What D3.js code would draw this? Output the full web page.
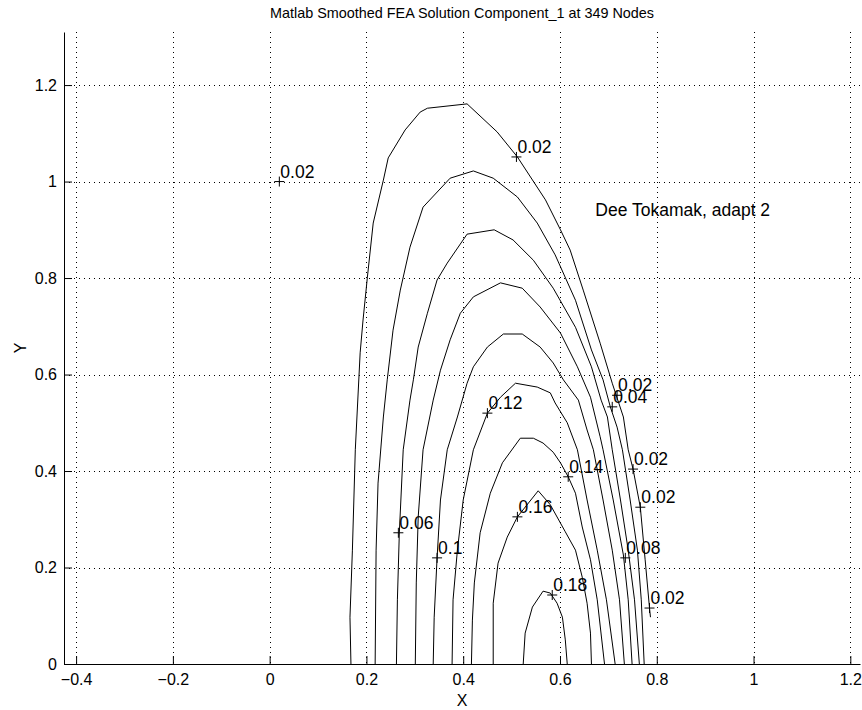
<!DOCTYPE html>
<html>
<head>
<meta charset="utf-8">
<script src="https://cdn.jsdelivr.net/npm/d3@7"></script>
<style>
body { margin: 0; background: #fff; }
svg text { font-family: "Liberation Sans", Arial, Helvetica, sans-serif; fill: #000; }
</style>
</head>
<body>
<script>
/*--- data ---*/
let titulo = "Matlab Smoothed FEA Solution Component_1 at 349 Nodes";
let nota = "Dee Tokamak, adapt 2";
let notaPos = [0.673, 0.928];

let xTicks = [-0.4, -0.2, 0, 0.2, 0.4, 0.6, 0.8, 1, 1.2];
let xTickLabels = ["\u22120.4", "\u22120.2", "0", "0.2", "0.4", "0.6", "0.8", "1", "1.2"];
let yTicks = [0, 0.2, 0.4, 0.6, 0.8, 1, 1.2];
let yTickLabels = ["0", "0.2", "0.4", "0.6", "0.8", "1", "1.2"];
let xDomain = [-0.425, 1.22];
let yDomain = [0, 1.31];

// contour levels, one polyline each (x, y)
let niveles = [0.02, 0.04, 0.06, 0.08, 0.1, 0.12, 0.14, 0.16, 0.18];

let c002 = [[0.168,0],[0.166,0.097],[0.171,0.236],[0.177,0.444],[0.187,0.645],[0.193,0.713],[0.202,0.802],[0.214,0.914],[0.235,1.003],[0.245,1.049],[0.280,1.107],[0.311,1.144],[0.326,1.152],[0.408,1.161],[0.470,1.103],[0.512,1.051],[0.570,0.962],[0.601,0.900],[0.621,0.858],[0.648,0.775],[0.683,0.665],[0.708,0.582],[0.731,0.512],[0.741,0.444],[0.751,0.404],[0.766,0.325],[0.776,0.216],[0.785,0.116],[0.787,0.097]];
let c004 = [[0.218,0],[0.220,0.236],[0.224,0.375],[0.235,0.512],[0.243,0.589],[0.255,0.692],[0.270,0.775],[0.290,0.864],[0.317,0.947],[0.373,1.007],[0.421,1.022],[0.462,1.007],[0.512,0.968],[0.553,0.914],[0.590,0.848],[0.632,0.754],[0.665,0.651],[0.689,0.589],[0.704,0.533],[0.718,0.491],[0.729,0.444],[0.745,0.340],[0.760,0.236],[0.768,0.133],[0.774,0]];
let c006 = [[0.262,0],[0.264,0.133],[0.268,0.272],[0.276,0.444],[0.290,0.547],[0.297,0.589],[0.307,0.657],[0.326,0.727],[0.346,0.796],[0.367,0.831],[0.408,0.891],[0.464,0.900],[0.503,0.879],[0.545,0.837],[0.586,0.779],[0.632,0.698],[0.665,0.616],[0.685,0.547],[0.698,0.512],[0.708,0.444],[0.725,0.340],[0.741,0.236],[0.754,0.133],[0.764,0]];
let c008 = [[0.301,0],[0.303,0.168],[0.307,0.305],[0.317,0.444],[0.338,0.547],[0.353,0.609],[0.373,0.672],[0.394,0.727],[0.421,0.761],[0.477,0.790],[0.522,0.779],[0.559,0.740],[0.601,0.686],[0.636,0.616],[0.663,0.553],[0.683,0.471],[0.689,0.444],[0.710,0.340],[0.731,0.226],[0.741,0.133],[0.749,0]];
let c010 = [[0.338,0],[0.340,0.097],[0.346,0.220],[0.353,0.340],[0.367,0.444],[0.388,0.512],[0.408,0.582],[0.421,0.616],[0.450,0.657],[0.483,0.684],[0.522,0.684],[0.559,0.657],[0.586,0.624],[0.607,0.589],[0.638,0.547],[0.656,0.485],[0.669,0.444],[0.689,0.340],[0.708,0.236],[0.723,0.133],[0.733,0]];
let c012 = [[0.377,0],[0.379,0.133],[0.388,0.236],[0.400,0.340],[0.421,0.444],[0.450,0.520],[0.477,0.553],[0.508,0.582],[0.553,0.574],[0.580,0.562],[0.590,0.541],[0.615,0.500],[0.636,0.444],[0.656,0.340],[0.677,0.236],[0.696,0.133],[0.714,0]];
let c014 = [[0.417,0],[0.419,0.091],[0.423,0.168],[0.435,0.272],[0.456,0.354],[0.481,0.417],[0.518,0.468],[0.545,0.468],[0.565,0.458],[0.586,0.439],[0.601,0.417],[0.617,0.388],[0.632,0.354],[0.646,0.284],[0.663,0.216],[0.677,0.133],[0.692,0]];
let c016 = [[0.462,0],[0.462,0.126],[0.472,0.209],[0.491,0.263],[0.512,0.305],[0.555,0.359],[0.580,0.330],[0.611,0.274],[0.632,0.236],[0.646,0.180],[0.656,0.126],[0.663,0.064],[0.665,0]];
let c018 = [[0.524,0],[0.528,0.064],[0.543,0.118],[0.565,0.151],[0.580,0.147],[0.594,0.126],[0.605,0.097],[0.611,0.050],[0.615,0]];

let contornos = [c002, c004, c006, c008, c010, c012, c014, c016, c018];

// clabel marks: x, y, text
let etiquetasX = [0.020, 0.510, 0.718, 0.708, 0.751, 0.766, 0.735, 0.785, 0.450, 0.617, 0.512, 0.266, 0.346, 0.584];
let etiquetasY = [1.000, 1.051, 0.557, 0.533, 0.404, 0.325, 0.220, 0.116, 0.520, 0.388, 0.305, 0.272, 0.220, 0.143];
let etiquetasT = ["0.02", "0.02", "0.02", "0.04", "0.02", "0.02", "0.08", "0.02", "0.12", "0.14", "0.16", "0.06", "0.1", "0.18"];

/*--- scales ---*/
let width = 862;
let height = 710;

let X = d3.scaleLinear().domain(xDomain).range([64, 860]);
let Y = d3.scaleLinear().domain(yDomain).range([664, 32]);

let svg = d3.select("body")
    .append("svg")
    .attr("width", width)
    .attr("height", height);

svg.append("rect").attr("width", width).attr("height", height).attr("fill", "#fff");

// grid
let grid = svg.append("g").attr("stroke", "#000").attr("stroke-width", 1)
    .attr("stroke-dasharray", "1,4").attr("shape-rendering", "crispEdges");

grid.selectAll(".gx").data(xTicks).enter().append("line")
    .attr("x1", d => Math.round(X(d)) + 0.5).attr("x2", d => Math.round(X(d)) + 0.5)
    .attr("y1", Y(yDomain[1])).attr("y2", Y(0));

grid.selectAll(".gy").data(yTicks.filter(d => d > 0)).enter().append("line")
    .attr("y1", d => Math.round(Y(d)) + 0.5).attr("y2", d => Math.round(Y(d)) + 0.5)
    .attr("x1", X(xDomain[0])).attr("x2", X(xDomain[1]));

// axes
let xEje = d3.axisBottom(X).tickValues(xTicks)
    .tickFormat((d, i) => xTickLabels[i])
    .tickSizeInner(-8).tickSizeOuter(0).tickPadding(10);
let yEje = d3.axisLeft(Y).tickValues(yTicks)
    .tickFormat((d, i) => yTickLabels[i])
    .tickSizeInner(-8).tickSizeOuter(0).tickPadding(7);

let gx = svg.append("g").attr("transform", "translate(0," + Y(0) + ")").call(xEje);
let gy = svg.append("g").attr("transform", "translate(" + X(xDomain[0]) + ",0)").call(yEje);

[gx, gy].forEach(function(g) {
    g.selectAll("text").attr("font-size", 16).attr("font-family", null);
    g.selectAll("path, line").attr("stroke", "#000");
    g.attr("font-family", null);
});

// contours
let linea = d3.line().x(d => X(d[0])).y(d => Y(d[1]));

svg.append("g").selectAll("path").data(contornos).enter().append("path")
    .attr("fill", "none")
    .attr("stroke", "#000")
    .attr("stroke-width", 1)
    .attr("stroke-linejoin", "round")
    .attr("d", linea);

// labels
let marcas = svg.append("g");
etiquetasT.forEach(function(t, i) {
    let px = X(etiquetasX[i]), py = Y(etiquetasY[i]);
    marcas.append("path")
        .attr("d", "M" + (px - 5) + "," + py + "H" + (px + 5) + "M" + px + "," + (py - 5) + "V" + (py + 5))
        .attr("stroke", "#000").attr("stroke-width", 1);
    marcas.append("text")
        .attr("x", px + 1).attr("y", py - 4)
        .attr("font-size", 17.5)
        .text(t);
});

svg.append("text")
    .attr("x", X(notaPos[0])).attr("y", Y(notaPos[1]))
    .attr("font-size", 17.5)
    .text(nota);

// titles
svg.append("text")
    .attr("x", (X(xDomain[0]) + X(xDomain[1])) / 2).attr("y", 18)
    .attr("text-anchor", "middle").attr("font-size", 14.4)
    .text(titulo);

svg.append("text")
    .attr("x", (X(xDomain[0]) + X(xDomain[1])) / 2).attr("y", 706)
    .attr("text-anchor", "middle").attr("font-size", 16)
    .text("X");

svg.append("text")
    .attr("transform", "translate(26," + (Y(0) + Y(yDomain[1])) / 2 + ") rotate(-90)")
    .attr("text-anchor", "middle").attr("font-size", 16)
    .text("Y");
</script>
</body>
</html>
